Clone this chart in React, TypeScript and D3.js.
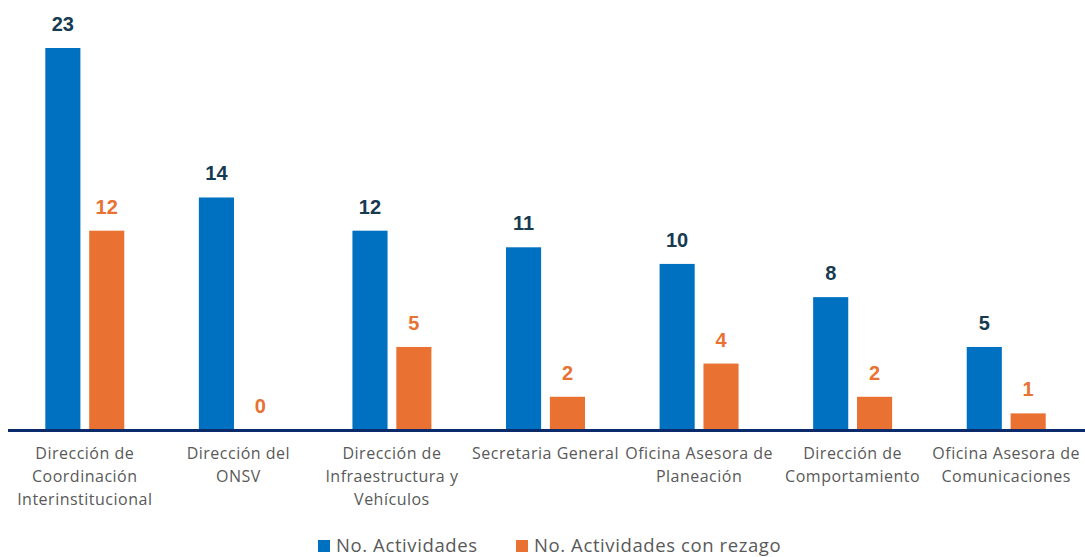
import * as d3 from "d3";
import React, { useRef, useEffect } from "react";

// chart data
const categories = [
  ["Dirección de", "Coordinación", "Interinstitucional"],
  ["Dirección del", "ONSV"],
  ["Dirección de", "Infraestructura y", "Vehículos"],
  ["Secretaria General"],
  ["Oficina Asesora de", "Planeación"],
  ["Dirección de", "Comportamiento"],
  ["Oficina Asesora de", "Comunicaciones"],
];
const actividades = [23, 14, 12, 11, 10, 8, 5];
const rezago = [12, 0, 5, 2, 4, 2, 1];
const seriesNames = ["No. Actividades", "No. Actividades con rezago"];

const W = 1085;
const H = 557;
const FONT = "'Open Sans', 'Liberation Sans', sans-serif";

const App = () => {
  const svgRef = useRef<SVGSVGElement>(null);

  useEffect(() => {
    const svg = d3.select(svgRef.current);
    svg.selectAll("*").remove();

    const keys = categories.map((c) => c.join(" "));
    const x = d3.scaleBand().domain(keys).range([8, 1083]);
    const sub = d3.scaleBand().domain(["a", "r"]).range([0, x.bandwidth()]).paddingInner(0.2).paddingOuter(0.85);
    const y = d3.scaleLinear().domain([0, 23]).range([430, 48]);
    const colors = ["#0070C0", "#E97132"];
    const labelColors = ["#163A50", "#E97132"];

    const rows = keys.map((k, i) => ({ k, vals: [actividades[i], rezago[i]] }));

    const g = svg.append("g");
    rows.forEach((r) => {
      r.vals.forEach((v, j) => {
        const bx = (x(r.k) as number) + (sub(j === 0 ? "a" : "r") as number);
        g.append("rect")
          .attr("x", bx)
          .attr("y", y(v))
          .attr("width", sub.bandwidth())
          .attr("height", y(0) - y(v))
          .attr("fill", colors[j]);
        g.append("text")
          .attr("x", bx + sub.bandwidth() / 2)
          .attr("y", y(v) - 17)
          .attr("text-anchor", "middle")
          .attr("font-family", "'Liberation Sans', Arial, sans-serif")
          .attr("font-weight", "bold")
          .attr("font-size", 20)
          .attr("fill", labelColors[j])
          .text(v);
      });
    });

    // baseline
    svg.append("line")
      .attr("x1", 8)
      .attr("x2", W)
      .attr("y1", y(0) + 0.5)
      .attr("y2", y(0) + 0.5)
      .attr("stroke", "#0B2A6B")
      .attr("stroke-width", 3);

    // category labels
    categories.forEach((lines, i) => {
      const cx = (x(keys[i]) as number) + x.bandwidth() / 2;
      const t = svg.append("text")
        .attr("text-anchor", "middle")
        .attr("font-family", FONT)
        .attr("font-size", 16)
        .attr("letter-spacing", 0.5)
        .attr("fill", "#595959");
      lines.forEach((ln, li) => {
        t.append("tspan").attr("x", cx).attr("y", 459 + li * 23).text(ln);
      });
    });

    // legend
    const legendX = [318, 516];
    seriesNames.forEach((name, j) => {
      svg.append("rect")
        .attr("x", legendX[j])
        .attr("y", 540)
        .attr("width", 12)
        .attr("height", 12)
        .attr("fill", colors[j]);
      svg.append("text")
        .attr("x", legendX[j] + 18)
        .attr("y", 552)
        .attr("font-family", FONT)
        .attr("font-size", 18.5)
        .attr("letter-spacing", 0.6)
        .attr("fill", "#595959")
        .text(name);
    });
  }, []);

  return (
    <svg
      ref={svgRef}
      width={W}
      height={H}
      style={{ position: "absolute", left: 0, top: 0, background: "#fff" }}
    />
  );
};

export default App;
